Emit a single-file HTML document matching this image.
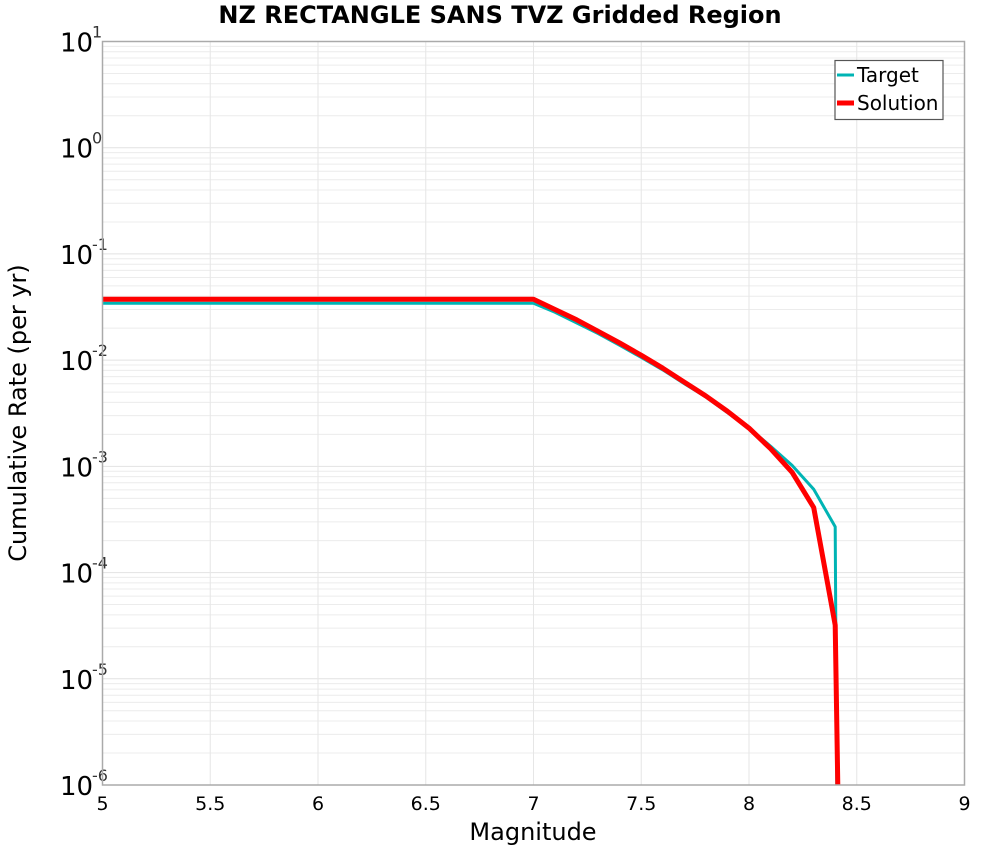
<!DOCTYPE html>
<html><head><meta charset="utf-8"><style>
html,body{margin:0;padding:0;background:#fff;}
svg{display:block;font-family:"DejaVu Sans","Liberation Sans",sans-serif;}
</style></head><body>
<svg id="chart" width="1000" height="850" xmlns="http://www.w3.org/2000/svg">
<text x="500" y="23" text-anchor="middle" font-size="24" font-weight="bold">NZ RECTANGLE SANS TVZ Gridded Region</text>
<g id="grid"></g>
<g id="ticks"></g>
<g id="series"></g>
<rect x="102.5" y="41.5" width="862" height="743.5" fill="none" stroke="#aaa" stroke-width="1.5"/>
<text x="533" y="840" text-anchor="middle" font-size="24">Magnitude</text>
<text transform="translate(26,413) rotate(-90)" text-anchor="middle" font-size="24">Cumulative Rate (per yr)</text>
<g>
<rect x="835" y="60.5" width="108" height="59" fill="#fff" stroke="#555" stroke-width="1.2"/>
<line x1="837" y1="75" x2="854" y2="75" stroke="#00b4b4" stroke-width="3"/>
<text x="857" y="82" font-size="20">Target</text>
<line x1="837" y1="103" x2="854" y2="103" stroke="#ff0000" stroke-width="5"/>
<text x="857" y="110" font-size="20">Solution</text>
</g>
</svg>
<script>
const magnitudes = [5.0,7.0,7.1,7.2,7.3,7.4,7.5,7.6,7.7,7.8,7.9,8.0,8.1,8.2,8.3,8.4,8.41];
const targetRates = [0.0343,0.0343,0.0282,0.0224,0.0178,0.0138,0.0106,0.0081,0.0060,0.0045,0.0032,0.00229,0.00155,0.00102,0.00061,0.00027,1e-7];
const solutionRates = [0.0374,0.0374,0.0300,0.0240,0.0187,0.0145,0.0111,0.0084,0.0062,0.0046,0.0033,0.00229,0.00147,0.00088,0.00041,0.000032,1e-7];
const solutionMags = [5.0,7.0,7.1,7.2,7.3,7.4,7.5,7.6,7.7,7.8,7.9,8.0,8.1,8.2,8.3,8.4,8.42];
const xTicks = [5,5.5,6,6.5,7,7.5,8,8.5,9];
const xTickLabels = ["5","5.5","6","6.5","7","7.5","8","8.5","9"];
const yExps = [1,0,-1,-2,-3,-4,-5,-6];

const NS="http://www.w3.org/2000/svg";
const X0=102.5,X1=964.5,Y0=41.5,Y1=785;
const xMin=5,xMax=9,eMax=1,eMin=-6;
function xs(m){return X0+(m-xMin)/(xMax-xMin)*(X1-X0);}
function ys(v){const l=Math.max(Math.log10(v),eMin-1);return Y0+(eMax-l)/(eMax-eMin)*(Y1-Y0);}
function mk(tag,attrs,parent){const e=document.createElementNS(NS,tag);for(const k in attrs)e.setAttribute(k,attrs[k]);parent.appendChild(e);return e;}
const grid=document.getElementById('grid'),ticks=document.getElementById('ticks'),series=document.getElementById('series');
for(let e=eMin;e<eMax;e++){for(let k=1;k<10;k++){const y=ys(k*Math.pow(10,e));
 const l=mk('line',{x1:X0,x2:X1,y1:y,y2:y,stroke:k===1?'#e2e2e2':'#ececec','stroke-width':1},grid);
 
 }}
xTicks.forEach((m,i)=>{const x=xs(m);
 const l=mk('line',{x1:x,x2:x,y1:Y0,y2:Y1,stroke:'#e6e6e6','stroke-width':1},grid);
 
 
 const t=mk('text',{x:x,y:810,'text-anchor':'middle','font-size':19},ticks);
 t.textContent=xTickLabels[i];
 
 });
yExps.forEach(e=>{const y=ys(Math.pow(10,e));
 const t=mk('text',{x:60,y:y+10,'font-size':26},ticks);
 t.textContent='10';
 
 
 const s=mk('text',{x:92,y:y-4,'font-size':16,fill:'#333'},ticks);
 s.textContent=String(e);
 
 });
function line(ms,vs,color,w,name){
 const d=ms.map((m,i)=>(i?'L':'M')+xs(m).toFixed(1)+','+ys(vs[i]).toFixed(1)).join(' ');
 const p=mk('path',{d:d,fill:'none',stroke:color,'stroke-width':w,'stroke-linejoin':'round','clip-path':'url(#clipp)'},series);
 
 }
const defs=mk('defs',{},series);const cp=mk('clipPath',{id:'clipp'},defs);mk('rect',{x:X0,y:Y0,width:X1-X0,height:Y1-Y0},cp);
line(magnitudes,targetRates,'#00b4b4',3,'target-line');
line(solutionMags,solutionRates,'#ff0000',5,'solution-line');
</script>
</body></html>
